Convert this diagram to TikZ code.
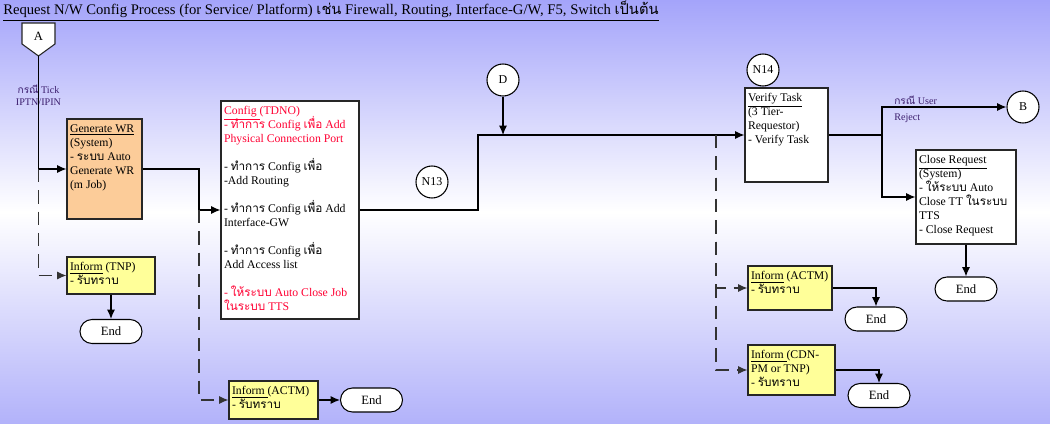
\documentclass[tikz,border=0pt]{standalone}
\usepackage{fontspec}
\setmainfont{Liberation Serif}
\newfontfamily\thaifont[Script=Thai,Scale=1.0]{Loma}
\newcommand\thai[1]{{\thaifont #1}}
\newcommand\boxfont{\fontsize{8.8}{10.5}\selectfont\lineskiplimit=-20pt\relax}
\usetikzlibrary{arrows.meta,shapes.misc}

\definecolor{bgtop}{RGB}{164,164,250}
\definecolor{bgbot}{RGB}{178,178,250}
\definecolor{peach}{RGB}{252,204,153}
\definecolor{lemon}{RGB}{255,255,153}
\definecolor{cfgred}{RGB}{255,0,51}
\definecolor{lblpurple}{RGB}{60,30,110}

\begin{document}
\begin{tikzpicture}[x=0.75pt,y=-0.75pt,
  box/.style={draw=black!85,line width=0.8pt,inner sep=0pt},
  boxtxt/.style={anchor=north west,align=left,inner xsep=2.5pt,inner ysep=4.5pt,font=\boxfont},
  endbox/.style={draw,line width=0.8pt,rounded rectangle,fill=white,minimum width=46.5pt,minimum height=18pt,inner sep=0pt,font=\fontsize{9.5}{10}\selectfont},
  conn/.style={draw,line width=0.8pt,circle,fill=white,minimum size=24pt,inner sep=0pt,font=\fontsize{9}{10}\selectfont},
  arr/.style={line width=0.8pt,-{Latex[length=7pt,width=6pt]}},
  dashline/.style={arr,dash pattern=on 10pt off 6pt,draw=black!80},
  lbl/.style={font=\fontsize{7.6}{9}\selectfont,text=lblpurple,align=left,inner sep=0pt}]

% background
\shade[top color=bgtop,bottom color=bgbot,middle color=white] (0,0) rectangle (1050,424);
\useasboundingbox (0,0) rectangle (1050,424);

\node[anchor=west,inner sep=0pt,font=\fontsize{11}{13}\selectfont] (title) at (3,11)
  {\underline{Request N/W Config Process (for Service/ Platform) \thai{เช่น} Firewall, Routing, Interface-G/W, F5, Switch \thai{เป็นต้น}}};

% off-page connector A
\filldraw[fill=white,draw=black!85,line width=0.8pt] (22,23) -- (55,23) -- (55,44) -- (38.5,56) -- (22,44) -- cycle;
\node[font=\fontsize{9.5}{10}\selectfont] (A) at (38.5,36) {A};
\coordinate (Atip) at (38.5,56);
\node[lbl,align=center] (tick) at (38.5,95) {\thai{กรณี} Tick\\IPTN/IPIN};

% process boxes
\node[box,fill=peach,minimum width=56.25pt,minimum height=75pt] (gen) at (104.5,169) {};
\node[boxtxt] (gent) at (gen.north west) {\underline{Generate WR}\\(System)\\- \thai{ระบบ} Auto\\Generate WR\\(m Job)};

\node[box,fill=white,minimum width=103.5pt,minimum height=163.5pt] (cfg) at (290,210) {};
\node[boxtxt] (cfgt) at (cfg.north west)
  {\textcolor{cfgred}{\underline{Config }(TDNO)}\\
   \textcolor{cfgred}{- \thai{ทำการ} Config \thai{เพื่อ} Add}\\
   \textcolor{cfgred}{Physical Connection Port}\\[10.5pt]
   - \thai{ทำการ} Config \thai{เพื่อ}\\
   -Add Routing\\[10.5pt]
   - \thai{ทำการ} Config \thai{เพื่อ} Add\\
   Interface-GW\\[10.5pt]
   - \thai{ทำการ} Config \thai{เพื่อ}\\
   Add Access list\\[10.5pt]
   \textcolor{cfgred}{- \thai{ให้ระบบ} Auto Close Job}\\
   \textcolor{cfgred}{\thai{ในระบบ} TTS}};

\node[box,fill=white,minimum width=62.25pt,minimum height=70.5pt] (ver) at (786.5,135) {};
\node[boxtxt] (vert) at (ver.north west) {\underline{Verify Task}\\(3 Tier-\\Requestor)\\- Verify Task};

\node[box,fill=white,minimum width=75pt,minimum height=70.5pt] (cls) at (966,197) {};
\node[boxtxt] (clst) at (cls.north west) {\underline{Close Request}\\(System)\\- \thai{ให้ระบบ} Auto\\Close TT \thai{ในระบบ}\\TTS\\- Close Request};

% inform boxes
\node[box,fill=lemon,minimum width=66pt,minimum height=27.75pt] (tnp) at (111,275.5) {};
\node[boxtxt] (tnpt) at (tnp.north west) {\underline{Inform} (TNP)\\- \thai{รับทราบ}};

\node[box,fill=lemon,minimum width=66.75pt,minimum height=28.5pt] (actmA) at (273.5,400) {};
\node[boxtxt] (actmAt) at (actmA.north west) {\underline{Inform }(ACTM)\\- \thai{รับทราบ}};

\node[box,fill=lemon,minimum width=63pt,minimum height=33pt] (actmB) at (790,288) {};
\node[boxtxt] (actmBt) at (actmB.north west) {\underline{Inform} (ACTM)\\- \thai{รับทราบ}};

\node[box,fill=lemon,minimum width=65.25pt,minimum height=37.5pt] (cdn) at (791.5,370) {};
\node[boxtxt] (cdnt) at (cdn.north west) {\underline{Inform }(CDN-\\PM or TNP)\\- \thai{รับทราบ}};

% end points
\node[endbox] (endA) at (111,331.5) {End};
\node[endbox] (endB) at (371.5,400) {End};
\node[endbox] (endC) at (966,289) {End};
\node[endbox] (endD) at (876,319) {End};
\node[endbox] (endE) at (879,395.5) {End};

% connectors
\node[conn] (N13) at (432,182) {N13};
\node[conn] (D) at (503,80) {D};
\node[conn] (N14) at (763,70) {N14};
\node[conn] (B) at (1023,107) {B};
\node[lbl,anchor=west] (rej) at (894,109) {\thai{กรณี} User\\[3pt]Reject};

\coordinate (asplit) at (38.5,169);
\coordinate (gsplit) at (199,210);
\coordinate (cstep) at (478,135);
\coordinate (vsplit) at (716,135);
\coordinate (vright) at (882,135);

\draw[arr] (Atip) -- (asplit) -- (gen.west);
\draw[dashline] (asplit) |- (tnp.west);
\draw[arr] (gen.east) -| (gsplit) -- (cfg.west);
\draw[dashline] (gsplit) |- (actmA.west);
\draw[arr] (cfg.east) -| (cstep) -- (ver.west);
\draw[arr] (D.south) -- (D.south |- ver.west);
\draw[dashline] (vsplit) |- (actmB.west);
\draw[dashline] (vsplit) |- (cdn.west);
\draw[arr] (ver.east) -- (vright) |- (B.west);
\draw[arr] (vright) |- (cls.west);
\draw[arr] (cls.south) -- (endC.north);
\draw[arr] (tnp.south) -- (endA.north);
\draw[arr] (actmA.east) -- (endB.west);
\draw[arr] (actmB.east) -| (endD.north);
\draw[arr] (cdn.east) -| (endE.north);

\end{tikzpicture}
\end{document}
